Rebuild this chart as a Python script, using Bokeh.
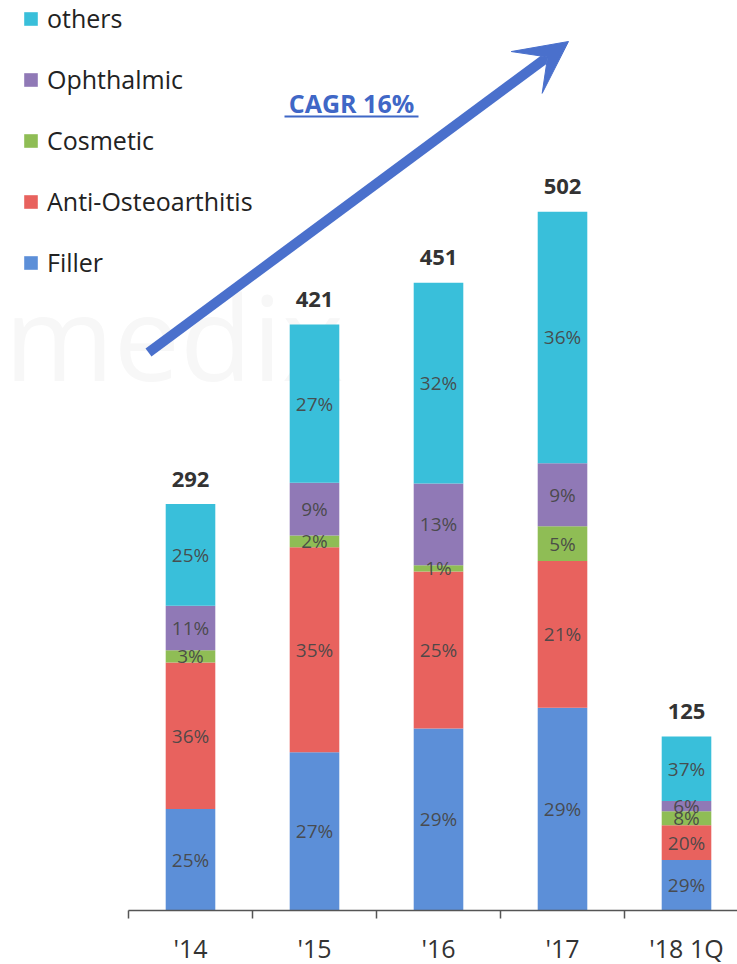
from bokeh.plotting import figure
from bokeh.models import (Range1d, FixedTicker, ColumnDataSource, Legend, LegendItem,
                          Arrow, VeeHead, Label)
from bokeh.core.properties import value
from bokeh.embed import file_html
from bokeh.resources import INLINE

# ---- data ----
categories = ["'14", "'15", "'16", "'17", "'18 1Q"]
totals = [292, 421, 451, 502, 125]
segments = ["Filler", "Anti-Osteoarthitis", "Cosmetic", "Ophthalmic", "others"]
filler_pct = [25, 27, 29, 29, 29]
anti_oa_pct = [36, 35, 25, 21, 20]
cosmetic_pct = [3, 2, 1, 5, 8]
ophthalmic_pct = [11, 9, 13, 9, 6]
others_pct = [25, 27, 32, 36, 37]
cagr_label = "CAGR 16%"

colors = ["#5C8FD8", "#E8625E", "#8FBD55", "#9079B6", "#39BFDA"]
FONT = "Open Sans"

pcts = [filler_pct, anti_oa_pct, cosmetic_pct, ophthalmic_pct, others_pct]
xs = [i + 0.5 for i in range(len(categories))]

PX_X = 124.0      # px per category
PX_Y = 1.392      # px per unit
X0 = 128          # image x of first boundary
BASE = 910        # image y of baseline

def sx(X):
    return (X - X0) / PX_X

def sy(Y):
    return (BASE - Y) / PX_Y

data = {"x": xs, "total": totals}
for name, pc in zip(segments, pcts):
    data[name] = [t * p / 100.0 for t, p in zip(totals, pc)]
source = ColumnDataSource(data)

p = figure(frame_width=737, frame_height=BASE, output_backend="svg",
           toolbar_location=None, x_range=Range1d(sx(0), sx(737)),
           y_range=Range1d(0, BASE / PX_Y), min_border=0)
p.outline_line_color = None
p.grid.visible = False
p.yaxis.visible = False
p.background_fill_color = "white"
p.border_fill_color = "white"

# faint watermark
p.text(x=[sx(4)], y=[sy(335)], text=["medix"], text_align="left",
       text_baseline="alphabetic", text_font=value(FONT),
       text_font_size="118px", text_color="#F7F7F7")

renderers = p.vbar_stack(segments, x="x", width=0.4, color=colors,
                         line_color=None, source=source)

# percent labels
for i, (name, pc) in enumerate(zip(segments, pcts)):
    ys, labels = [], []
    for j in range(len(categories)):
        bottom = sum(totals[j] * pcts[k][j] / 100.0 for k in range(i))
        seg = totals[j] * pc[j] / 100.0
        ys.append(bottom + seg / 2)
        labels.append(f"{pc[j]}%")
    p.text(x=xs, y=ys, text=labels, text_align="center", text_baseline="middle",
           text_font=value(FONT), text_font_size="19px", text_color="#474747",
           text_alpha=0.95)

# totals
p.text(x=xs, y=totals, text=[str(t) for t in totals], text_align="center",
       text_baseline="middle", y_offset=-25, text_font=value(FONT),
       text_font_size="22px", text_font_style="bold", text_color="#333333")

# axis
ax = p.xaxis[0]
ax.ticker = FixedTicker(ticks=xs, minor_ticks=list(range(len(categories) + 1)))
ax.major_label_overrides = {x: c for x, c in zip(xs, categories)}
ax.major_tick_out = 0
ax.major_tick_in = 0
ax.minor_tick_out = 8
ax.minor_tick_in = 0
ax.minor_tick_line_color = "#555555"
ax.minor_tick_line_width = 1.5
ax.axis_line_color = "#555555"
ax.axis_line_width = 1.5
ax.bounds = (0, sx(737))
ax.major_label_text_font = FONT
ax.major_label_text_font_size = "25px"
ax.major_label_text_color = "#333333"
ax.major_label_standoff = 12

# arrow
p.add_layout(Arrow(end=VeeHead(size=52, fill_color="#4A70CC", line_color="#4A70CC"),
                   x_start=sx(148), y_start=sy(352), x_end=sx(568), y_end=sy(41),
                   line_color="#4A70CC", line_width=10))

# CAGR label with underline
p.add_layout(Label(x=sx(351), y=sy(102), text=cagr_label, text_align="center",
                   text_baseline="middle", text_font=FONT, text_font_size="25px",
                   text_font_style="bold", text_color="#3F67C6"))
p.segment(x0=[sx(284)], y0=[sy(116)], x1=[sx(418)], y1=[sy(116)],
          line_color="#3F67C6", line_width=2)

# legend
items = [LegendItem(label=name, renderers=[r]) for name, r in zip(segments, renderers)]
items.reverse()
legend = Legend(items=items, location=(22, 631), orientation="vertical",
                glyph_width=17, glyph_height=17, label_text_font=FONT,
                label_text_font_size="25px", label_text_color="#222222",
                label_standoff=8, spacing=27, padding=0, margin=0,
                border_line_color=None, background_fill_alpha=0)
p.add_layout(legend)

open("out.html", "w").write(file_html(p, INLINE))
